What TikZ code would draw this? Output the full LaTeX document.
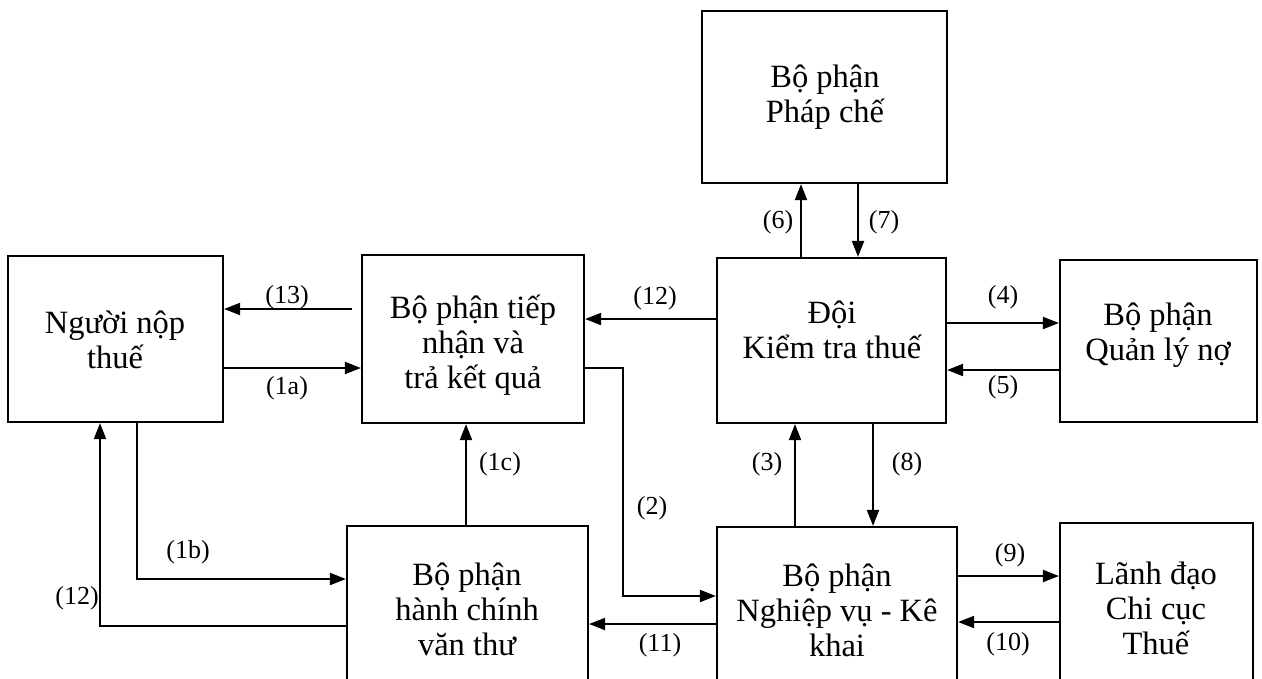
\documentclass[tikz,border=0pt]{standalone}
\usepackage{fontspec}
\setmainfont{Liberation Serif}
\usetikzlibrary{arrows.meta}
\begin{document}
\begin{tikzpicture}[x=1pt,y=-1pt,
  box/.style={draw, line width=2.2pt, rectangle, inner sep=0pt},
  btext/.style={align=center, font=\fontsize{32.5}{35}\selectfont, inner sep=0pt},
  lab/.style={font=\fontsize{26}{28}\selectfont, inner sep=0pt},
  arr/.style={line width=2pt, -{Triangle[length=16pt,width=12pt]}}]
\useasboundingbox (0,0) rectangle (1262,678);
\fill[white] (0,0) rectangle (1262,678);
\clip (0,0) rectangle (1262,678);
% boxes
\node[box, minimum width=215pt, minimum height=166pt] (nnt) at (115.5,339) {};
\node[box, minimum width=222pt, minimum height=168pt] (tn) at (473,339) {};
\node[box, minimum width=245pt, minimum height=172pt] (pc) at (824.5,97) {};
\node[box, minimum width=229pt, minimum height=165pt] (doi) at (831.5,340.5) {};
\node[box, minimum width=197pt, minimum height=162pt] (qln) at (1158.5,341) {};
\node[box, minimum width=241pt, minimum height=200pt] (hc) at (467.5,626) {};
\node[box, minimum width=240pt, minimum height=200pt] (nv) at (837,627) {};
\node[box, minimum width=193pt, minimum height=200pt] (ld) at (1156.5,623) {};
% box texts
\node[btext] (nnt-t) at (115,340) {Người nộp\\thuế};
\node[btext] (tn-t) at (473,345) {Bộ phận tiếp\\nhận và\\trả kết quả};
\node[btext] (pc-t) at (825,97) {Bộ phận\\Pháp chế};
\node[btext] (doi-t) at (832,330) {Đội\\Kiểm tra thuế};
\node[btext] (qln-t) at (1158,335) {Bộ phận\\Quản lý nợ};
\node[btext] (hc-t) at (467,609) {Bộ phận\\hành chính\\văn thư};
\node[btext] (nv-t) at (837,610) {Bộ phận\\Nghiệp vụ - Kê\\khai};
\node[btext] (ld-t) at (1156,608) {Lãnh đạo\\Chi cục\\Thuế};
% levels
\coordinate (h13) at (0,309);
\coordinate (h1a) at (0,368);
\coordinate (h12) at (0,319);
\coordinate (h4) at (0,323);
\coordinate (h5) at (0,370);
\coordinate (v6) at (801,0);
\coordinate (v7) at (858,0);
\coordinate (v3) at (795,0);
\coordinate (v8) at (873,0);
\coordinate (v1c) at (466,0);
\coordinate (h9) at (0,576);
\coordinate (h10) at (0,622);
\coordinate (h11) at (0,624);
\coordinate (h2) at (0,596);
\coordinate (b2) at (623,368);
\coordinate (b1b) at (137,579);
\coordinate (b12) at (100,626);
% connectors
\draw[arr, shorten <=9pt] (tn.west |- h13) -- (nnt.east |- h13);
\draw[arr] (nnt.east |- h1a) -- (tn.west |- h1a);
\draw[arr] (doi.west |- h12) -- (tn.east |- h12);
\draw[arr] (tn.east |- h1a) -- (b2) -- (b2 |- h2) -- (nv.west |- h2);
\draw[arr] (doi.north -| v6) -- (pc.south -| v6);
\draw[arr] (pc.south -| v7) -- (doi.north -| v7);
\draw[arr] (doi.east |- h4) -- (qln.west |- h4);
\draw[arr] (qln.west |- h5) -- (doi.east |- h5);
\draw[arr] (nv.north -| v3) -- (doi.south -| v3);
\draw[arr] (doi.south -| v8) -- (nv.north -| v8);
\draw[arr] (nv.east |- h9) -- (ld.west |- h9);
\draw[arr] (ld.west |- h10) -- (nv.east |- h10);
\draw[arr] (nv.west |- h11) -- (hc.east |- h11);
\draw[arr] (hc.north -| v1c) -- (tn.south -| v1c);
\draw[arr] (nnt.south -| b1b) -- (b1b) -- (hc.west |- b1b);
\draw[arr] (hc.west |- b12) -- (b12) -- (nnt.south -| b12);
% labels
\node[lab] (l13) at (287,297) {(13)};
\node[lab] (l1a) at (287,388) {(1a)};
\node[lab] (l12a) at (655,298) {(12)};
\node[lab] (l6) at (778,222) {(6)};
\node[lab] (l7) at (884,222) {(7)};
\node[lab] (l4) at (1003,297) {(4)};
\node[lab] (l5) at (1003,387) {(5)};
\node[lab] (l3) at (767,464) {(3)};
\node[lab] (l8) at (907,464) {(8)};
\node[lab] (l1c) at (500,464) {(1c)};
\node[lab] (l2) at (652,508) {(2)};
\node[lab] (l1b) at (188,552) {(1b)};
\node[lab] (l12b) at (77,598) {(12)};
\node[lab] (l11) at (660,645) {(11)};
\node[lab] (l9) at (1010,555) {(9)};
\node[lab] (l10) at (1008,644) {(10)};
\end{tikzpicture}
\end{document}
